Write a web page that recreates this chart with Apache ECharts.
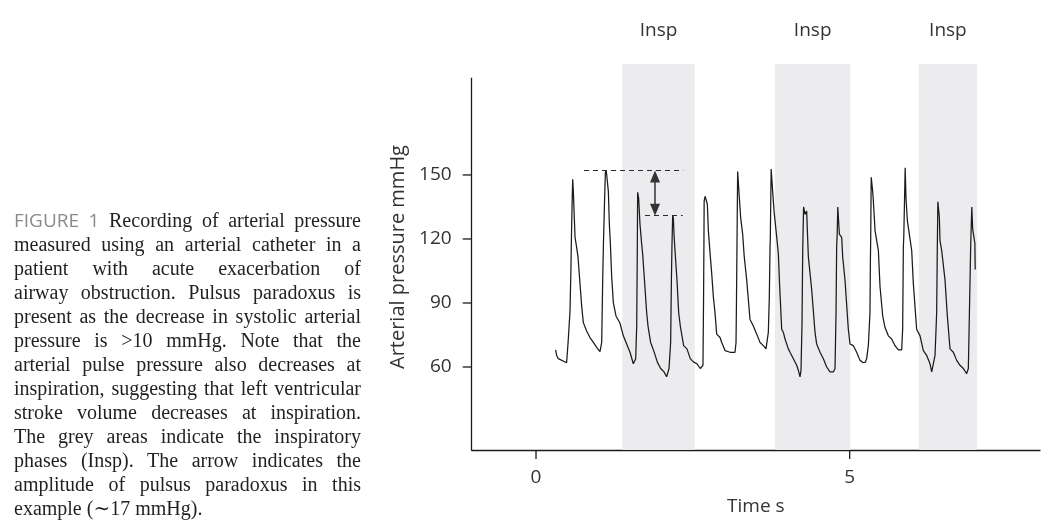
<!DOCTYPE html>
<html>
<head>
<meta charset="utf-8">
<script src="https://cdn.jsdelivr.net/npm/echarts@6/dist/echarts.min.js"></script>
<style>
  html, body { margin:0; padding:0; background:#fff; }
  #wrap { position:relative; width:1048px; height:521px; overflow:hidden; }
  #chart { position:absolute; left:0; top:0; width:1048px; height:521px; }
  #caption { position:absolute; left:14px; top:208px; width:347px; font-family:"Liberation Serif", "DejaVu Serif", serif; font-size:20px; line-height:24px; color:#231f20; }
  #caption .ln { text-align:justify; text-align-last:justify; white-space:nowrap; }
  #caption .ln.last { text-align-last:left; }
  #caption .fig { font-family:"Open Sans", "Liberation Sans", sans-serif; color:#8a8a8a; font-size:19px; }
</style>
</head>
<body>
<div id="wrap">
  <div id="chart"></div>
  <div id="caption"></div>
</div>
<script>
// ---- caption text lines ----
const captionLabel = 'FIGURE 1';
const captionLines = [
  'Recording of arterial pressure',
  'measured using an arterial catheter in a',
  'patient with acute exacerbation of',
  'airway obstruction. Pulsus paradoxus is',
  'present as the decrease in systolic arterial',
  'pressure is >10 mmHg. Note that the',
  'arterial pulse pressure also decreases at',
  'inspiration, suggesting that left ventricular',
  'stroke volume decreases at inspiration.',
  'The grey areas indicate the inspiratory',
  'phases (Insp). The arrow indicates the',
  'amplitude of pulsus paradoxus in this',
  'example (\u223C17 mmHg).'
];

// ---- axes ----
const xTickValues = [0, 5];
const yTickValues = [60, 90, 120, 150];
const xMin = -1.025, xMax = 8.033;
const yMin = 21.1, yMax = 202.0, yAxisTop = 195.5;

// ---- inspiratory phases (s) ----
const inspStart = [1.376, 3.81, 6.10];
const inspEnd   = [2.53, 5.01, 7.03];
const inspLabel = 'Insp';

// ---- pulsus paradoxus marker ----
const ppHigh = 152.0, ppLow = 130.9;
const ppHighFrom = 0.765, ppHighTo = 2.348;
const ppLowFrom = 1.737, ppLowTo = 2.338;
const ppArrowT = 1.897;

// ---- arterial pressure trace: time (s) ----
const traceTime = [
  0.313,0.329,0.355,0.488,0.504,0.515,0.542,0.556,0.565,0.578,0.585,0.595,0.622,0.645,0.668,0.701,0.728,0.754,0.807,0.860,0.914,0.967,1.020,1.036,
  1.047,1.063,1.075,1.090,1.105,1.116,1.127,1.153,1.169,1.185,1.206,1.233,1.275,1.339,1.392,1.445,1.498,1.551,1.567,
  1.589,1.605,1.612,1.615,1.620,1.636,1.657,1.684,1.700,1.721,1.764,1.785,1.827,1.881,1.934,1.987,2.040,2.082,
  2.120,2.146,2.158,2.166,2.178,2.189,2.200,2.221,2.247,2.274,2.300,2.353,2.406,2.459,2.512,2.566,2.619,2.645,
  2.661,2.670,2.676,2.680,2.695,2.710,2.731,2.747,2.775,2.800,2.826,2.853,2.880,2.933,2.960,3.013,3.093,3.172,
  3.188,3.196,3.203,3.207,3.214,3.241,3.262,3.294,3.318,3.358,3.411,3.464,3.518,3.571,3.624,3.666,3.690,
  3.703,3.719,3.730,3.735,3.748,3.772,3.794,3.826,3.863,3.879,3.916,3.943,3.969,4.022,4.049,4.102,4.155,4.181,4.208,
  4.224,4.240,4.251,4.258,4.265,4.288,4.314,4.325,4.341,4.394,4.447,4.473,4.527,4.580,4.633,4.686,4.739,
  4.766,4.782,4.792,4.800,4.810,4.835,4.872,4.888,4.925,4.978,5.005,5.058,5.111,5.164,5.217,5.250,5.270,
  5.297,5.323,5.330,5.334,5.343,5.366,5.377,5.404,5.430,5.457,5.483,5.526,5.563,5.616,5.669,5.722,5.775,5.828,
  5.844,5.855,5.862,5.884,5.897,5.919,5.950,5.988,6.014,6.067,6.121,6.174,6.227,6.280,6.307,6.333,
  6.360,6.386,6.395,6.405,6.429,6.439,6.466,6.519,6.556,6.599,6.652,6.705,6.758,6.811,6.864,
  6.891,6.907,6.928,6.935,6.946,6.960,6.981,6.995,7.000
];
// ---- arterial pressure trace: pressure (mmHg) ----
const tracePressure = [
  68.0,65.4,63.9,62.0,61.5,73.1,86.2,105,121,140,148.0,142.3,120.8,116.5,112,99.2,88.5,80.8,76.9,73.8,71.5,69.2,67.2,67.0,
  71.5,100.8,118,135,151,152.3,150,142.3,127,118,102.4,90,83.9,80.5,74.6,70.8,66.9,61.5,61.0,
  63.9,79.2,105,117,141.9,139.2,127,117.7,113,103.9,85.4,79.2,71.5,67.2,62.3,59.3,57.7,55.4,
  59.3,71.5,100.8,115,131.0,130,122,112,100.8,85.4,79.2,70.0,68.5,63.9,62.3,61.5,59.3,58.5,
  60.8,90,116,137.7,140.0,138.5,136.2,123.9,113,104,93.1,85.4,75.4,73.8,71.5,67.7,66.9,66.9,
  71.5,93.1,116,130,151.6,139.2,130,122.3,112,100.8,82.3,79.2,75.4,71.5,70.0,68.5,68.5,
  76.2,93.1,116.2,121,152.8,142.3,133.1,123.9,113,100.8,77.7,76.2,73.1,68.5,66.9,63.9,60.8,58.5,55.4,
  58.5,80.8,114.6,125,135.0,131.5,133.1,123.9,111.6,96.2,76.2,70.8,66.9,63.9,60.0,57.7,57.7,
  59.3,85.4,116.2,122,135.0,122.3,120.8,111.6,100.8,77.7,70.8,70.0,66.9,63.1,62.0,62.3,63.9,
  70.0,85.4,110,119,148.9,142.3,137.7,123.9,119.2,114.6,97.7,83.9,78.5,74.6,73.1,70.0,68.0,68.0,
  77.7,116.2,121,153.4,139.2,128.5,122.3,114.6,99.2,77.7,74.6,67.7,65.4,61.5,57.7,58.5,
  65.4,85.4,113,137.4,130.0,119.2,114.6,100.8,83.9,68.5,66.9,63.1,60.8,59.3,56.9,
  59.3,83.9,116.2,124,135.0,124.6,124.6,118,105.7
];

// caption
(function(){
  const cap = document.getElementById('caption');
  captionLines.forEach((t, i) => {
    const d = document.createElement('div');
    d.className = 'ln' + (i === captionLines.length - 1 ? ' last' : '');
    if (i === 0) {
      const s = document.createElement('span');
      s.className = 'fig';
      s.textContent = captionLabel;
      d.appendChild(s);
      d.appendChild(document.createTextNode(' ' + t));
    } else {
      d.textContent = t;
    }
    cap.appendChild(d);
  });
})();

const sansFont = '"Open Sans", "Liberation Sans", sans-serif';
const textColor = '#333';
const axisColor = '#1a1a1a';
const gridTop = 64, gridBottom = 65, chartH = 521;
const pxPerUnit = (chartH - gridTop - gridBottom) / (yMax - yMin);
const arrowHead = [10, 12];
const headShift = (arrowHead[1] / 2) / pxPerUnit;
const tickLen = 9, tickW = 1.3;

const chart = echarts.init(document.getElementById('chart'), null, {renderer: 'canvas'});
const traceData = traceTime.map((t, i) => [t, tracePressure[i]]);

chart.setOption({
  animation: false,
  backgroundColor: 'transparent',
  grid: { left: 471.7, right: 8, top: gridTop, bottom: gridBottom, containLabel: false },
  xAxis: {
    type: 'value', min: xMin, max: xMax,
    name: 'Time s', nameLocation: 'middle', nameGap: 47,
    nameTextStyle: { fontFamily: sansFont, fontSize: 19, color: textColor },
    axisLine: { show: true, onZero: false, lineStyle: { color: axisColor, width: 1.3 } },
    axisTick: { show: false },
    axisLabel: { show: true, customValues: xTickValues, margin: 18, fontFamily: sansFont, fontSize: 19, color: textColor },
    splitLine: { show: false }
  },
  yAxis: {
    type: 'value', min: yMin, max: yMax,
    name: 'Arterial pressure mmHg', nameLocation: 'middle', nameGap: 62, nameRotate: 90,
    nameTextStyle: { fontFamily: sansFont, fontSize: 20, color: textColor },
    axisLine: { show: false, onZero: false },
    axisTick: { show: false },
    axisLabel: { show: true, customValues: yTickValues, margin: 20, fontFamily: sansFont, fontSize: 19, color: textColor },
    splitLine: { show: false }
  },
  series: [
    {
      name: 'insp', type: 'line', data: [], z: 1, silent: true, clip: false,
      markArea: {
        silent: true,
        itemStyle: { color: '#ececee' },
        label: { show: true, position: 'top', distance: 24, formatter: inspLabel,
                 fontFamily: sansFont, fontSize: 19, color: textColor },
        data: inspStart.map((s, i) => [{ xAxis: s }, { xAxis: inspEnd[i] }])
      }
    },
    {
      name: 'Arterial pressure', type: 'line', data: traceData, z: 3, clip: false,
      showSymbol: false, symbol: 'none', smooth: false,
      lineStyle: { color: '#1b1b1b', width: 1.25 },
      silent: true
    },
    {
      name: 'guides', type: 'line', data: [], z: 4, silent: true, clip: false,
      markLine: {
        silent: true, symbol: ['none', 'none'],
        label: { show: false },
        lineStyle: { color: '#2a2a2a', width: 1.2, type: [5, 4] },
        data: [
          [{ coord: [ppHighFrom, ppHigh] }, { coord: [ppHighTo, ppHigh] }],
          [{ coord: [ppLowFrom, ppLow] }, { coord: [ppLowTo, ppLow] }]
        ]
      }
    },
    {
      name: 'arrow', type: 'line', data: [], z: 4, silent: true, clip: false,
      markLine: {
        silent: true, symbol: ['triangle', 'triangle'], symbolSize: arrowHead,
        label: { show: false },
        lineStyle: { color: '#333', width: 1.5, type: 'solid' },
        itemStyle: { color: '#333' },
        data: [
          [{ coord: [ppArrowT, ppHigh - headShift] }, { coord: [ppArrowT, ppLow + headShift] }]
        ]
      }
    },
    {
      name: 'yAxisLine', type: 'line', data: [], z: 4, silent: true, clip: false,
      markLine: {
        silent: true, symbol: ['none', 'none'],
        label: { show: false },
        lineStyle: { color: axisColor, width: 1.3, type: 'solid' },
        data: [
          [{ coord: [xMin, yMin] }, { coord: [xMin, yAxisTop] }]
        ]
      }
    }
  ]
});

// axis ticks, placed through the chart's own scales
const tickGraphics = [];
xTickValues.forEach(v => {
  const p = chart.convertToPixel({ xAxisIndex: 0, yAxisIndex: 0 }, [v, yMin]);
  tickGraphics.push({ type: 'rect', z: 100, silent: true,
    shape: { x: p[0] - tickW / 2, y: p[1], width: tickW, height: tickLen },
    style: { fill: axisColor } });
});
yTickValues.forEach(v => {
  const p = chart.convertToPixel({ xAxisIndex: 0, yAxisIndex: 0 }, [xMin, v]);
  tickGraphics.push({ type: 'rect', z: 100, silent: true,
    shape: { x: p[0] - tickLen, y: p[1] - tickW / 2, width: tickLen, height: tickW },
    style: { fill: axisColor } });
});
chart.setOption({ graphic: { elements: tickGraphics } });
</script>
</body>
</html>
